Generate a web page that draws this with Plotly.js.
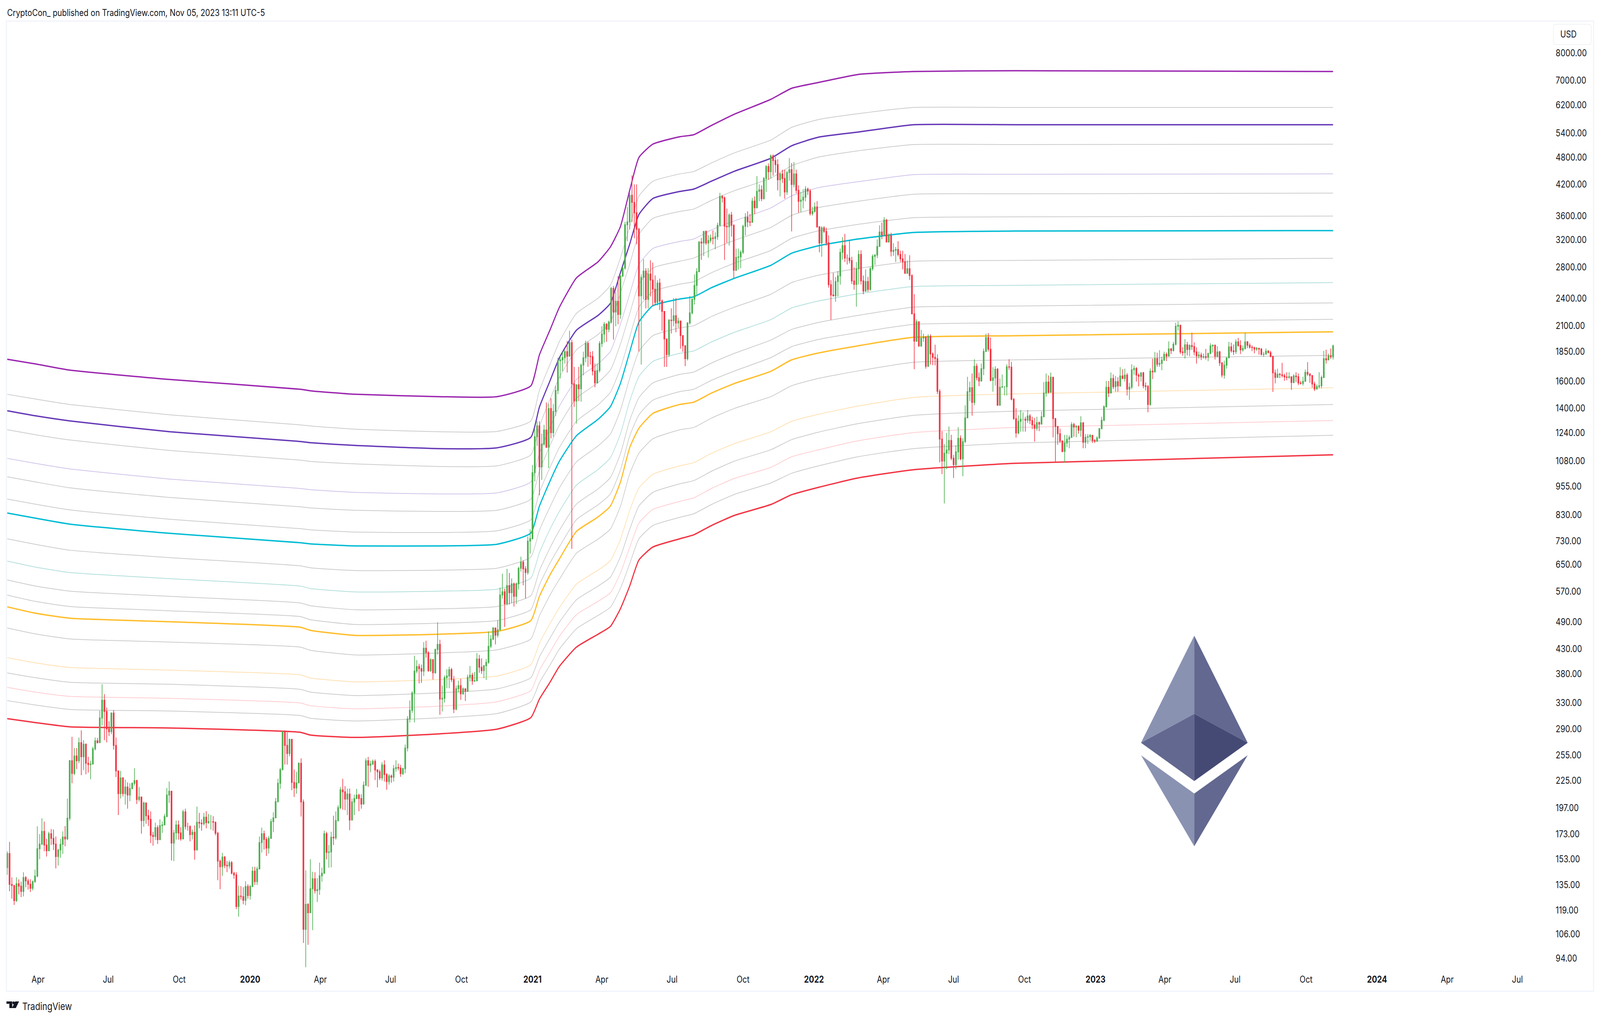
<!DOCTYPE html>
<html><head><meta charset="utf-8">
<script src="https://cdn.plot.ly/plotly-3.0.1.min.js"></script>
<style>html,body{margin:0;padding:0;background:#fff;overflow:hidden}</style></head>
<body><div id="chart" style="width:4950px;height:2608px;transform-origin:0 0"></div>
<script>
const firstOpen = 146.7;
const firstBarDate = '2019-02-20';
const closes = [157.3,135.2,134.4,124.8,135.6,134,130.6,139.8,137.5,135.3,132.6,137,140.8,161,164.8,175.4,164,159.4,173.4,169.4,164.8,155,160,164.5,170.6,169,187,248,233,254,248,271,253,269,245,243.5,244,263,273.5,271,306,334,316,290,286,313.5,267.5,236,211,228,211,218,209.6,216.4,222,225,205,207.6,185,201.6,189.4,186,172,171,178.6,168.4,180.4,181,188.6,209.6,213.6,165.6,174,181,174,169,193,179.6,179.6,172.6,174.6,160,183.4,182.6,182,188,183,184,184,183.4,173.8,151.6,147.4,154.6,148.4,148,150.4,142.8,141.6,121.3,127.7,127.3,125,133.8,128,133.8,144.3,137,145.8,166,173.4,168.6,161.6,169.4,184,187.4,203,222,237.5,286,267.5,257,275.5,223,217,222.5,245,202.6,108.4,122.6,117.6,132.3,139,131,131.8,141,142.8,173.4,158.2,158.5,170.4,169.8,185,197,215,213,205.4,210.6,185.4,202.6,206,
209.5,206,200.5,220,248,242.6,244,247.3,237,235,228,243,231.8,224,230.2,228.7,238.6,240,239.3,232.8,238.6,264,304.6,317.7,346,385,394,389.8,385,431,421.6,386,407.5,382,428.3,439,335.7,337,373,376,388,369.5,319.5,353.4,358.6,344.5,353,349,373.5,377.5,367,367.5,408.6,392.5,386,395.6,402,435,450.6,476,459.3,471.8,559.6,568.6,536,586,566,591,556,591,638,657.5,636,625,
729,738,1020,1217,1284,1050,1174,1258,1156,1398,1241,1378,1528,1767,1775,1794,1848,1807,1931,1578,1450,1571,1540,1730,1794,1925,1807,1803,1680,1585,1685,1923,2015,2115,2062,2137,2522,2245,2367,2218,2680,2785,3446,3496,3982,3845,3654,3370,2430,2662,2745,2388,2705,2626,2510,2354,2588,2370,2252,1967,1822,2158,2152,2205,2127,2148,2000,1903,1785,2127,2235,2388,2558,2737,3165,3150,3335,3150,3190,3230,3220,3249,3435,3960,3930,3420,3410,3615,3435,2755,2935,2943,3010,3420,3575,3496,3486,3870,3745,4060,4090,3915,4325,4585,4470,4830,4720,4630,4295,4420,4325,4048,4450,4515,4200,4420,4078,3865,3890,3945,4105,4065,3640,3680,3762,3410,3150,3395,3335,3155,2568,2440,2430,2607,2680,3010,
3110,2925,2925,2890,2615,2570,2777,2978,2615,2488,2608,2508,2777,2950,2970,3098,3325,3277,3525,3166,3265,3022,3040,3052,2978,2915,2875,2715,2777,2685,2225,1945,2140,1900,1975,1987,1720,1992,1828,1797,1785,1521,1203,1080,1123,1140,1195,1095,1061,1130,1208,1092,1188,1335,1518,1548,1440,1720,1627,1600,1700,1850,1980,1870,1605,1624,1695,1420,1552,1556,1556,1716,1712,1463,1330,1240,1313,1326,1326,1320,1348,1318,1290,1268,1305,1295,1343,1508,1592,1514,1630,1330,1280,1235,1192,1132,1180,1203,1213,1292,1276,1280,1256,1303,1184,1214,1217,1225,1195,1190,1210,1266,1320,1410,1551,1508,1620,1556,1595,1562,1640,1620,1647,1537,1552,1691,
1702,1647,1638,1665,1563,1558,1426,1679,1673,1785,1737,1745,1773,1824,1807,1873,1858,1917,2093,2104,1845,1839,1911,1868,1905,1895,1845,1810,1818,1801,1803,1797,1831,1901,1907,1807,1845,1749,1647,1729,1793,1892,1855,1848,1939,1905,1864,1877,1939,1907,1888,1885,1871,1879,1871,1824,1825,1852,1839,1805,1665,1628,1654,1650,1642,1632,1628,1634,1589,1640,1634,1584,1581,1597,1669,1655,1643,1577,1538,1557,1563,1628,1785,1775,1810,1801,1901];
const highs = [159,166.5,140,134.8,140,138.6,137,143.5,140.8,139,138.6,137.8,145.3,179.8,173,187,184,169,175,177.4,177,171,161,169,175.4,180,206,249,279,264,264,278,288,274.5,270,253,248,265.5,278,277.5,317,361,344,322,301,314.5,318,278,236,236,229,226,223,222,223,239,226,218,207.6,203,202,195,193.4,175,183,180.6,186,184,191,217,224,214,176.6,185,185,179,195,196,183,180.6,177,180.6,198,192,186,192,193.6,191,190,189,184,175,152.6,157.8,155.4,151.6,152,151.6,143.8,143.5,134.3,134,133.3,137.3,135.3,134.8,147.4,147.4,147.4,171,178.6,176,170.6,171.4,186.6,192.6,206.6,227,239.5,286.5,288,285,276.5,276,237.5,235,246,251,205,144.8,123.2,153,143.8,143.5,139.4,150.4,146.7,176,175,164,175,189.4,193.4,199.3,218,227,219,216.4,216.4,206,210,
216,211,210.4,224,251,252.7,248,249.6,249.6,238,237.4,246.3,248.6,233.4,232.4,231.8,243,248.6,244.6,243,239.6,268.6,308.8,333.5,349,415.3,406.5,399.3,397.7,444,447,424.5,410.2,408.6,430,489.3,449.4,358.6,377,388.7,393.6,391.4,376,358.6,367.5,371,355.4,354,378.5,395,382,383.5,421,417,410,396.7,408.6,468,459.3,478,476,494,580.5,621.4,577.5,636,623.5,607,595,595,643,675.5,664,644.6,
746,772,1059,1262,1313,1313,1235,1290,1440,1430,1470,1430,1563,1794,1807,1848,1861,1945,2048,1960,1715,1571,1715,1743,1848,1950,1941,1848,1852,1743,1743,1945,2093,2137,2127,2152,2540,2552,2477,2676,2688,2806,3496,3762,4030,4390,4200,4200,3395,2700,2910,2785,2785,2895,2860,2688,2626,2645,2388,2252,1967,2168,2285,2405,2405,2183,2137,2000,1903,2137,2430,2405,2700,2785,3178,3230,3340,3350,3275,3285,3350,3320,3480,4030,3985,3960,3730,3645,3670,3455,3065,3065,3040,3445,3645,3680,3630,3930,3960,4375,4200,4180,4356,4620,4655,4865,4865,4810,4750,4450,4515,4515,4485,4780,4665,4688,4515,4180,4048,4105,4165,4135,4105,3762,3845,3870,3420,3420,3420,3395,3270,2626,2720,2665,2745,3065,
3240,3295,2978,3200,2945,2795,2870,3040,3040,2685,2767,2667,2801,2978,2978,3205,3436,3482,3578,3545,3305,3313,3147,3090,3178,3033,3033,2985,2890,2967,2700,2450,2165,2140,2057,2018,1982,2013,2013,1842,1912,1824,1537,1250,1174,1240,1280,1228,1113,1167,1275,1225,1208,1420,1634,1595,1660,1780,1743,1668,1743,1877,2018,2025,1980,1712,1720,1705,1620,1652,1560,1737,1780,1757,1472,1400,1352,1388,1372,1343,1388,1360,1343,1335,1343,1311,1378,1592,1660,1644,1668,1634,1335,1283,1265,1195,1228,1228,1225,1308,1303,1288,1288,1346,1308,1233,1233,1233,1228,1203,1220,1270,1343,1420,1600,1600,1668,1652,1640,1630,1712,1695,1700,1664,1585,1737,
1725,1713,1662,1670,1673,1589,1569,1702,1786,1845,1838,1861,1803,1848,1842,1943,1883,1939,2130,2142,2104,1888,1965,1939,1917,2028,1934,1887,1848,1839,1830,1873,1839,1926,1914,1914,1898,1855,1755,1768,1797,1939,1931,1914,1963,1977,1954,1905,2027,1947,1926,1905,1893,1890,1883,1881,1845,1877,1861,1855,1810,1692,1700,1665,1749,1657,1670,1670,1634,1654,1670,1660,1601,1634,1692,1755,1664,1647,1594,1573,1670,1643,1855,1866,1831,1877,1913];
const lows = [141.7,130.7,126,122.2,124,128.7,127,127.4,133.3,131.8,130.2,131.3,136.3,140,153,164,159,155,159,164,160,146.2,148.3,154,157,163,168,185,222,231,238,245,231,237,232,234,226.5,243.5,261,270,271,295,274.5,271.5,280,282.5,262,229,190,206,208,200,196,203.4,215.6,219.6,200.6,203,173.4,179.4,182,180,165.6,163.4,168,164.8,168,174,181,188,201.6,152,151.6,168.4,168.4,167.5,168.6,177,176,167,168.6,152.6,160,178,176,180.6,178,182,177,176,172,138,132,141,146.4,143.5,146,142,139,119.7,115.4,125.4,122.6,122,126,125.4,133.3,134.8,134.8,145.8,158,160.4,155.4,157.3,169,174.6,187,202,216,236.5,243.5,243.5,253.5,214.6,207.6,211,222,188.6,101.4,90,100.5,117.6,108,129.2,124,128.4,137,142.3,152.8,146.7,147,164,168.4,184,195.4,195,194.6,190,176.4,185,190,
205.4,193.6,196,200.5,219,218.2,234.4,243,225.6,217.6,225.6,225,224,215.2,220.5,222.6,224,235,236.5,229.3,231.2,233.4,259.7,299.4,313.8,299.4,381,362.7,363.5,376,411.4,383.5,383.5,369.5,380,417.7,310.8,316,330.3,354,354,365,313.4,317.7,346.8,334.4,343,332.6,347.7,366,360,365,366,382,380,372,369,399.3,431,448.2,439,454.3,470,550,478.4,532,534,537.5,529,535.5,575,627.5,587,550,
618,686,735,977,1164,913,985,1164,1151,1044,1207,1217,1348,1500,1620,1680,1743,1668,1807,702,1408,1298,1450,1446,1645,1755,1715,1735,1645,1551,1582,1668,1890,1933,1940,2032,2120,1960,2093,2115,2172,2665,2765,3179,3370,3496,3225,3130,1848,1735,2388,2285,2285,2423,2320,2320,2320,2268,2048,1715,1715,1802,2020,2093,2032,2078,1875,1848,1721,1770,2112,2218,2328,2443,2728,2900,2955,3120,2933,3155,3130,3055,3200,3420,3845,2900,3150,3110,3249,2650,2745,2765,2785,2985,3270,3405,3420,3486,3630,3735,3870,3870,3900,4048,4295,4325,4385,4450,4078,3960,4230,3915,3990,4280,3335,4140,4020,3655,3665,3735,3865,3990,3605,3605,3655,3395,3010,2945,3310,3110,2530,2160,2423,2360,2423,2568,
2905,2870,2835,2850,2575,2505,2305,2570,2570,2450,2478,2478,2492,2750,2827,2925,3090,3210,3265,3158,3155,2950,2960,2870,2950,2870,2767,2708,2715,2628,2220,1695,1939,1893,1893,1939,1700,1716,1735,1730,1727,1500,1073,1013,877,1038,1117,1084,994,1038,1088,1084,1002,1180,1335,1450,1350,1420,1605,1560,1595,1647,1845,1850,1598,1518,1565,1420,1420,1548,1490,1490,1690,1455,1323,1212,1232,1248,1248,1248,1303,1295,1263,1188,1253,1251,1292,1338,1482,1504,1512,1213,1073,1170,1180,1127,1073,1157,1150,1210,1217,1214,1235,1217,1150,1150,1175,1195,1180,1180,1188,1205,1263,1313,1405,1479,1505,1537,1518,1518,1556,1614,1595,1490,1458,1537,
1650,1596,1558,1596,1543,1528,1372,1417,1615,1668,1716,1716,1687,1765,1764,1803,1827,1850,1904,2051,1827,1811,1786,1813,1807,1864,1815,1743,1786,1773,1786,1778,1764,1825,1839,1778,1797,1722,1628,1619,1700,1789,1839,1818,1827,1892,1827,1848,1868,1880,1877,1852,1833,1855,1821,1814,1801,1824,1833,1797,1517,1581,1625,1623,1628,1601,1606,1617,1532,1582,1591,1568,1572,1565,1594,1640,1586,1548,1523,1536,1543,1543,1622,1743,1770,1783,1778];

const lineDates = ['2019-02-20','2019-03-28','2019-05-12','2019-09-19','2020-03-06','2020-03-19','2020-05-16','2020-09-02','2020-11-16','2020-12-30','2021-01-10','2021-01-24','2021-02-05','2021-02-27','2021-03-27','2021-04-12','2021-04-25','2021-05-07','2021-05-19','2021-06-06','2021-07-11','2021-07-29','2021-08-21','2021-09-20','2021-11-06','2021-12-03','2022-01-07','2022-02-27','2022-05-10','2022-09-19','2023-11-05'];
const redBand = [305,299.2,293,291.3,285.2,281.4,278.1,283,289.6,306.7,335.7,365.3,394.4,433.3,461.6,479.6,523,584.5,664.5,708,737.4,751.7,787,827.3,872.5,915.5,949.4,994,1035,1068,1113.6];
const greyBand1 = [333.2,326.2,319.1,316.6,309.7,305.6,301.5,306.2,312.7,331.3,363.9,397.4,429.2,474.1,506.2,527,577.8,652,737.4,787,819.4,833.6,872.5,917.2,969.6,1017,1055,1103,1148,1180,1226];
const pinkBand = [355.6,347.5,340.2,337,329.3,325,320,324.3,331.3,350.2,386.9,423.5,457.2,508.1,542.4,565.7,622.7,706.6,796.1,851.5,886,901.4,944,992.2,1047,1103,1141.5,1193,1242,1273.5,1318];
const greyBand2 = [381.8,373,364.6,361,352.2,347.5,341.6,346.2,352.9,373,413,453.7,490,546.6,584.5,610.8,674.9,772.1,866,926,966,981,1027,1080,1141.5,1200,1245,1298,1351.5,1380,1426];
const peachBand = [411.4,401.3,392.2,386.9,378.1,372.4,365.3,369.5,375.9,397.4,441.6,487.2,526,590.1,632.2,662,734.5,846.5,945.8,1011.5,1055,1071.6,1122,1177,1247,1313,1359,1415,1476,1502,1548];
const greyBand3 = [476,462.5,451.1,444.2,433.3,426.7,416.9,421,427.5,451.1,505.2,560.3,604.9,686.8,736,773.6,864.3,1013.5,1122,1204.6,1259,1273.5,1333.5,1399,1481.7,1563,1621,1681,1754,1775,1815];
const orangeBand = [528,512,499.4,490.8,477.8,470.5,459,461.6,468,493.7,555.9,619,668.4,764.8,820.9,866,973.4,1152.6,1268.6,1364.4,1426,1442,1507.6,1581,1678,1775,1836.4,1901.4,1983.2,1998.4,2037];
const greyBand4 = [559.3,542.4,529,517.9,503.3,495.7,484.3,487.2,493.7,521,587.9,655.7,709.5,810,871,919,1033,1221,1355,1456,1519,1536.5,1605,1680.5,1794.6,1894,1962,2029,2113,2129,2166];
const greyBand5 = [602.6,585,570.3,555.9,538.2,531,520.5,523,529,558.2,631,706.6,768.5,874.3,941.6,996,1119,1318,1474,1584.5,1652.5,1671.6,1747,1833,1956,2061,2133,2208,2299,2312,2348];
const mintBand = [660.9,642,625,606.2,584.5,577.8,568,570.3,575.7,608.5,689.3,775,844.3,959.8,1036,1098,1233,1448,1635.5,1761,1833,1854,1938,2033,2162,2290,2370,2453,2544,2559,2594];
const greyBand6 = [737.4,717.9,697.3,672.3,645.7,639.6,631,632.2,638.3,674.9,768.9,864.3,947,1075.7,1163,1233,1385.5,1621,1850.5,1998.4,2076.7,2099,2195.5,2299,2449,2594,2690,2780,2881,2892,2923];
const cyanBand = [836.9,816.3,792.5,757.4,723.4,719.3,712.1,712.1,717.9,758.9,866,981,1080,1223,1325.6,1410.6,1581,1843.5,2137,2315,2393.5,2419,2529,2650,2823,2996,3108,3212,3317,3341,3348];
const greyBand7 = [896.4,874.3,850,811.5,775,770.6,762,760.3,767,810,926,1049,1155,1313,1423,1513.5,1702,1983,2299,2482,2574,2605,2722,2855,3037,3223,3344,3452,3567,3581,3595];
const greyBand8 = [1000,975.3,947,903.2,863,858,848.2,843.3,848.2,896.4,1029,1168,1290,1470.6,1587.5,1688,1916,2225,2574,2786,2881,2925,3048,3192,3400,3608,3749,3866,4002,4010,4025];
const lavenderBand = [1094.4,1068,1039,988.5,944,938.6,926,919,924,975.3,1122,1278,1415,1612,1740.6,1850.5,2113,2449,2834,3066,3174,3212,3359,3513,3742,3971,4135,4256,4406,4414,4422];
const greyBand9 = [1260,1229.5,1197.7,1137.7,1085,1078,1065,1051.5,1055,1113.6,1281,1466,1630.5,1865,2010,2133,2463,2839,3285,3553,3678,3721,3882,4074,4330,4604,4803,4954,5107,5107,5117];
const indigoBand = [1382.7,1349,1315.5,1247,1189,1181.7,1166,1148,1152.6,1214,1408,1605,1794.6,2053,2208,2343,2722,3131,3622,3918,4057,4104,4267,4482,4775,5077,5296,5430,5630,5630,5630];
const greyBand10 = [1499,1465,1426,1355,1290,1283,1262.8,1247,1249,1315.5,1528,1740.6,1942,2230,2402,2559,2928,3406,3964,4264,4422,4473,4666,4905,5222,5557,5775,5942,6128,6128,6128];
const purpleBand = [1780,1740.6,1688,1612,1536.5,1525,1499,1481.7,1481.7,1563,1819,2061,2299,2654,2872,3090,3413,4076,4793,5117,5307,5359,5609,5931,6377,6732,6928,7204,7311,7339,7311];

const priceTicks = [8000,7000,6200,5400,4800,4200,3600,3200,2800,2400,2100,1850,1600,1400,1240,1080,955,830,730,650,570,490,430,380,330,290,255,225,197,173,153,135,119,106,94];
const timeTicks = ['2019-04-01','2019-07-01','2019-10-01','2020-01-01','2020-04-01','2020-07-01','2020-10-01','2021-01-01','2021-04-01','2021-07-01','2021-10-01','2022-01-01','2022-04-01','2022-07-01','2022-10-01','2023-01-01','2023-04-01','2023-07-01','2023-10-01','2024-01-01','2024-04-01','2024-07-01'];
const timeLabels = ['Apr','Jul','Oct','<b>2020</b>','Apr','Jul','Oct','<b>2021</b>','Apr','Jul','Oct','<b>2022</b>','Apr','Jul','Oct','<b>2023</b>','Apr','Jul','Oct','<b>2024</b>','Apr','Jul'];

const W=4950,H=2608,L=21,R=4800,T=55,B=2490;
const px=x=>(x-L)/(R-L), py=y=>1-(y-T)/(B-T);
const poly=(pts,fill)=>({type:'path',xref:'paper',yref:'paper',layer:'above',fillcolor:fill,line:{width:0},
  path:'M'+pts.map(p=>px(p[0])+' '+py(p[1])).join(' L')+' Z'});

// the window can be narrower than the chart: fit the full width into it
const chartEl=document.getElementById('chart');
if(window.innerWidth<W){chartEl.style.transform='scaleX('+(window.innerWidth/W)+')';}

const opens = closes.map((c,i)=> i===0 ? firstOpen : closes[i-1]);
const start = Date.parse(firstBarDate+'T00:00:00Z');
const barDates = closes.map((c,i)=> new Date(start+i*3*86400000).toISOString().slice(0,10));

const band=(y,color,width)=>({type:'scatter',mode:'lines',x:lineDates,y:y,line:{color:color,width:width,shape:'spline',smoothing:0.5},hoverinfo:'skip'});
const G='#cccccc';
const traces=[
 band(redBand,'#f23645',3.5),band(greyBand1,G,2),band(pinkBand,'#ffcdd2',2),band(greyBand2,G,2),band(peachBand,'#ffe0b2',2),band(greyBand3,G,2),
 band(orangeBand,'#ffbe2d',3.5),band(greyBand4,G,2),band(greyBand5,G,2),band(mintBand,'#b2dfdb',2),band(greyBand6,G,2),
 band(cyanBand,'#00bcd4',3.5),band(greyBand7,G,2),band(greyBand8,G,2),band(lavenderBand,'#d1c4e9',2),band(greyBand9,G,2),
 band(indigoBand,'#673ab7',3.5),band(greyBand10,G,2),band(purpleBand,'#9c27b0',3.5),
 {type:'candlestick',x:barDates,open:opens,high:highs,low:lows,close:closes,xaxis:'x2',yaxis:'y2',whiskerwidth:0,
  increasing:{line:{color:'#4caf50',width:2},fillcolor:'#4caf50'},decreasing:{line:{color:'#f23645',width:2},fillcolor:'#f23645'},hoverinfo:'skip'}
];
const xr=['2019-02-19 10:00','2024-08-14 06:00'], yr=[1.9422,3.9706];
const font={family:'Inter, Roboto, sans-serif',size:24,color:'#131722'};
const logoLight='#8a92b2',logoMid='#62688f',logoDark='#454a75';
const layout={width:W,height:H,paper_bgcolor:'#fff',plot_bgcolor:'#fff',showlegend:false,boxgap:0.4,font:font,
 margin:{l:L,r:W-R,t:T,b:H-B,pad:0},
 xaxis:{type:'date',range:xr,tickmode:'array',tickvals:timeTicks,ticktext:timeLabels,showgrid:false,zeroline:false,showline:false,ticks:'',tickangle:0,tickfont:font,automargin:false},
 yaxis:{type:'log',range:yr,side:'right',tickmode:'array',tickvals:priceTicks,ticktext:priceTicks.map(v=>v.toFixed(2)),showgrid:false,zeroline:false,showline:false,ticks:'',tickfont:font,ticklabelstandoff:12,automargin:false},
 xaxis2:{type:'date',range:xr,overlaying:'x',visible:false,rangeslider:{visible:false}},
 yaxis2:{type:'log',range:yr,overlaying:'y',visible:false},
 annotations:[
  {xref:'paper',yref:'paper',x:px(20),y:py(32),xanchor:'left',yanchor:'middle',showarrow:false,text:'CryptoCon_ published on TradingView.com, Nov 05, 2023 13:11 UTC-5',font:{family:'Inter',size:24,color:'#131722'}},
  {xref:'paper',yref:'paper',x:px(4825),y:py(88),xanchor:'left',yanchor:'middle',showarrow:false,text:'USD',font:{family:'Inter',size:24,color:'#131722'}},
  {xref:'paper',yref:'paper',x:px(67),y:py(2575),xanchor:'left',yanchor:'middle',showarrow:false,text:'TradingView',font:{family:'Inter',size:26,color:'#131722'}}
 ],
 shapes:[
  {type:'rect',xref:'paper',yref:'paper',x0:px(20),x1:px(4930),y0:py(54),y1:py(2537),line:{color:'#f0f3fa',width:3},fillcolor:'rgba(0,0,0,0)',layer:'below'},
  {type:'path',xref:'paper',yref:'paper',layer:'above',fillcolor:'rgba(255,255,255,0)',line:{color:'#eceef3',width:1.5},
   path:'M'+px(4814)+' '+py(62)+' L'+px(4915)+' '+py(62)+' Q'+px(4923)+' '+py(62)+' '+px(4923)+' '+py(70)+' L'+px(4923)+' '+py(106)+' Q'+px(4923)+' '+py(114)+' '+px(4915)+' '+py(114)+' L'+px(4814)+' '+py(114)+' Q'+px(4806)+' '+py(114)+' '+px(4806)+' '+py(106)+' L'+px(4806)+' '+py(70)+' Q'+px(4806)+' '+py(62)+' '+px(4814)+' '+py(62)+' Z'},
  poly([[3694.7,1627],[3530,1901],[3694.7,1827]],logoLight),
  poly([[3694.7,1627],[3860,1901],[3694.7,1827]],logoMid),
  poly([[3530,1901],[3694.7,1827],[3694.7,1999]],logoMid),
  poly([[3860,1901],[3694.7,1827],[3694.7,1999]],logoDark),
  poly([[3530,1933],[3694.7,2031],[3694.7,2166]],logoLight),
  poly([[3860,1933],[3694.7,2031],[3694.7,2166]],logoMid),
  poly([[20,2563],[38,2563],[38,2580],[29,2580],[29,2569],[20,2569]],'#131722'),
  {type:'circle',xref:'paper',yref:'paper',x0:px(38.5),x1:px(46),y0:py(2563),y1:py(2570.5),fillcolor:'#131722',line:{width:0},layer:'above'},
  poly([[47,2563],[59,2563],[49,2580],[37,2580]],'#131722')
 ]
};
Plotly.newPlot('chart',traces,layout,{staticPlot:true,displayModeBar:false});
</script></body></html>
